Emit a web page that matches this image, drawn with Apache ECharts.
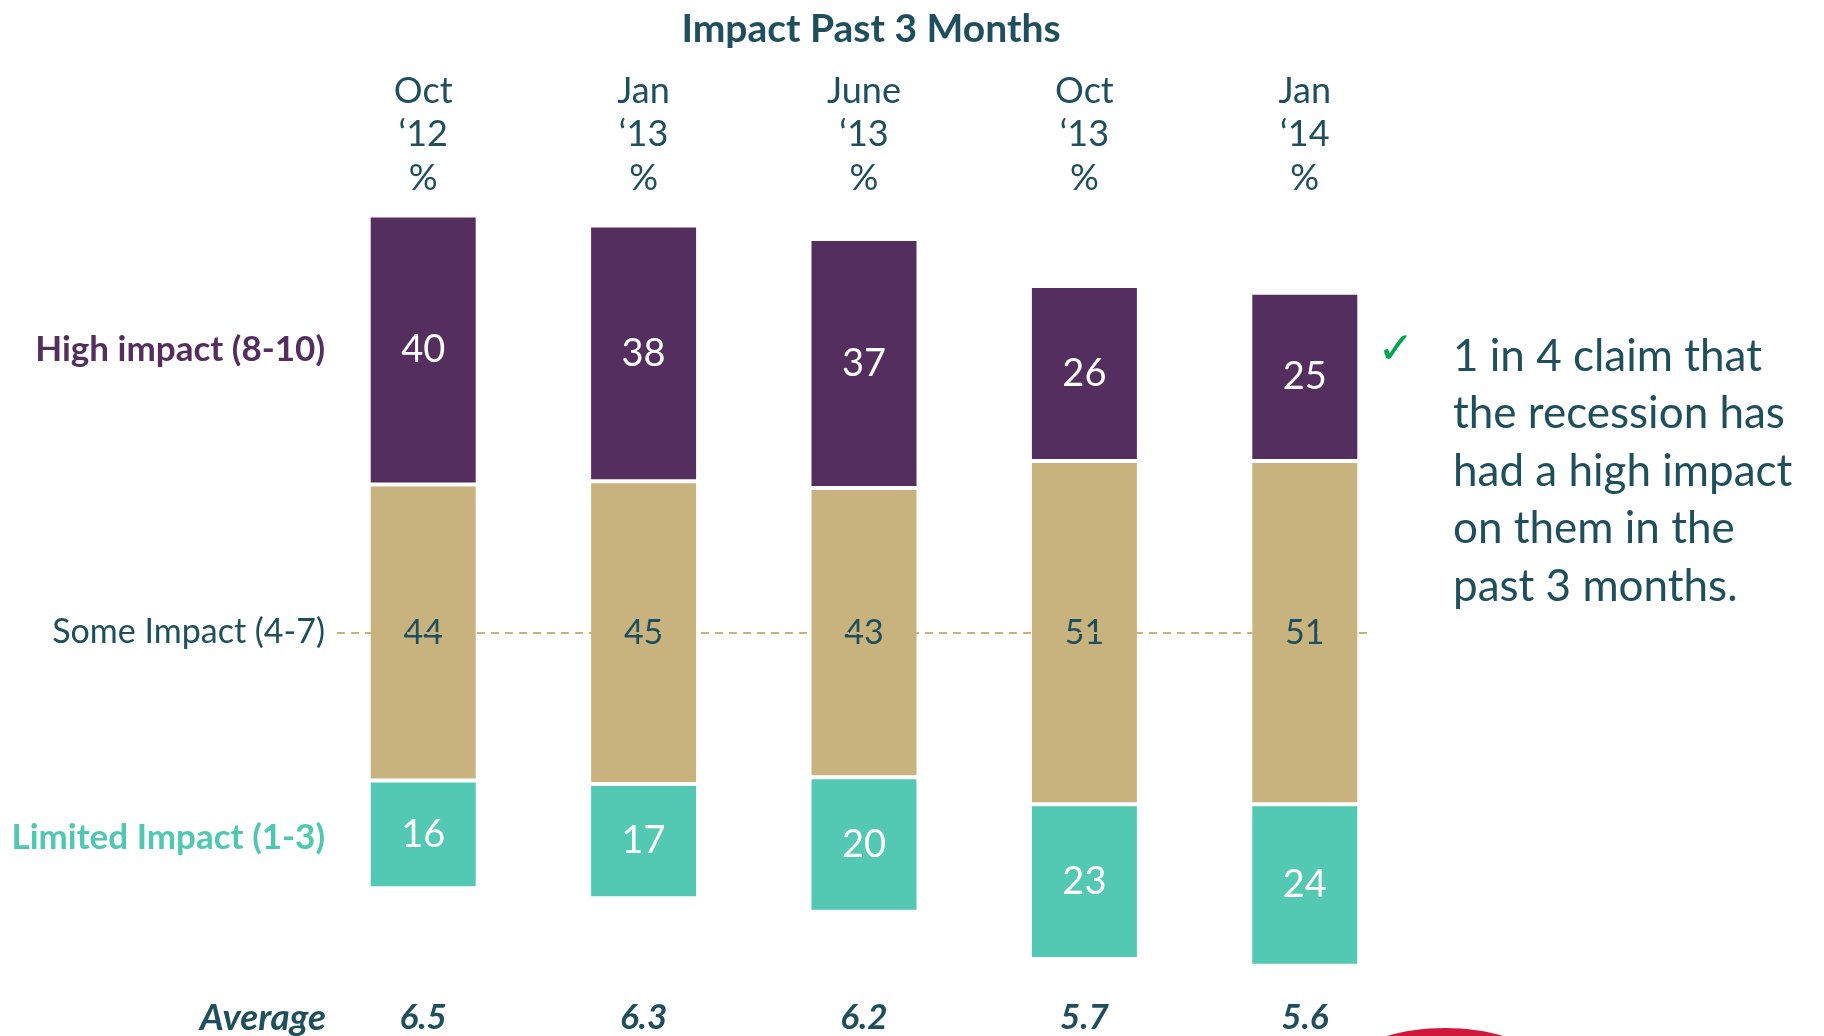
<!DOCTYPE html>
<html>
<head>
<meta charset="utf-8">
<style>
  html, body { margin: 0; padding: 0; background: #fff; }
  #chart { width: 1824px; height: 1036px; }
</style>
<script src="https://cdn.jsdelivr.net/npm/echarts@6/dist/echarts.min.js"></script>
</head>
<body>
<div id="chart"></div>
<script>
// data
const categories = ['Oct ‘12', 'Jan ‘13', 'June ‘13', 'Oct ‘13', 'Jan ‘14']
const limitedImpact = [16, 17, 20, 23, 24]
const someImpact = [44, 45, 43, 51, 51]
const highImpact = [40, 38, 37, 26, 25]
const averages = ['6.5', '6.3', '6.2', '5.7', '5.6']
const seriesNames = ['Limited Impact (1-3)', 'Some Impact (4-7)', 'High impact (8-10)']

const FONT = 'Lato, "Open Sans", sans-serif'
const DARK = '#1f4f5c'
const colors = ['#53c9b4', '#c8b37f', '#532e5f']

// bars are lined up on the middle of the "some impact" block
const centre = 100
const offset = limitedImpact.map((v, i) => centre - v - someImpact[i] / 2)

const chart = echarts.init(document.getElementById('chart'))

const segment = (idx, data, labelColor, labelSize) => ({
  name: seriesNames[idx],
  type: 'bar',
  stack: 'total',
  barWidth: 109,
  z: 2,
  data: data,
  itemStyle: { color: colors[idx], borderColor: '#fff', borderWidth: 2 },
  label: {
    show: true,
    position: 'inside',
    color: labelColor,
    fontFamily: FONT,
    fontSize: labelSize
  }
})

const option = {
  animation: false,
  backgroundColor: '#fff',
  title: {
    text: 'Impact Past 3 Months',
    left: 866,
    top: 5,
    textAlign: 'center',
    textStyle: { color: DARK, fontFamily: FONT, fontWeight: 'bold', fontSize: 39 }
  },
  grid: { left: 313, right: 409, top: 202, bottom: 67 },
  xAxis: [
    {
      type: 'category',
      position: 'top',
      data: categories,
      axisLine: { show: false },
      axisTick: { show: false },
      axisLabel: {
        margin: 2,
        color: DARK,
        fontFamily: FONT,
        fontSize: 36,
        lineHeight: 43.5,
        formatter: v => v.split(' ').join('\n') + '\n%'
      }
    },
    {
      type: 'category',
      position: 'bottom',
      data: averages,
      axisLine: { show: false },
      axisTick: { show: false },
      axisLabel: {
        margin: 31,
        color: DARK,
        fontFamily: FONT,
        fontSize: 35,
        lineHeight: 35,
        fontWeight: 'bold',
        fontStyle: 'italic'
      }
    }
  ],
  yAxis: { type: 'value', min: 50, max: 164, show: false },
  graphic: [
    {
      type: 'text', x: 325, y: 350,
      style: { text: seriesNames[2], fill: colors[2], font: 'bold 35px ' + FONT, align: 'right', verticalAlign: 'middle' }
    },
    {
      type: 'text', x: 337, y: 632, z: 10,
      style: {
        text: seriesNames[1], fill: DARK, font: '34px ' + FONT,
        align: 'right', verticalAlign: 'middle',
        backgroundColor: '#fff', padding: [4, 12, 4, 4]
      }
    },
    {
      type: 'text', x: 325, y: 838,
      style: { text: seriesNames[0], fill: '#4fc8b1', font: 'bold 35px ' + FONT, align: 'right', verticalAlign: 'middle' }
    },
    {
      type: 'text', x: 326, y: 1018,
      style: { text: 'Average', fill: DARK, font: 'italic bold 37px ' + FONT, align: 'right', verticalAlign: 'middle' }
    },
    {
      type: 'text', x: 1396, y: 352,
      style: { text: '✓', fill: '#00a651', font: '44px "DejaVu Sans"', align: 'center', verticalAlign: 'middle' }
    },
    {
      type: 'text', x: 1453, y: 328,
      style: {
        text: '1 in 4 claim that\nthe recession has\nhad a high impact\non them in the\npast 3 months.',
        fill: DARK, font: '44px ' + FONT, lineHeight: 57.5,
        align: 'left', verticalAlign: 'top'
      }
    },
    {
      type: 'ellipse', shape: { cx: 1445, cy: 1062, rx: 90, ry: 34 },
      style: { fill: '#d0183a' }
    }
  ],
  series: [
    {
      name: 'offset',
      type: 'bar',
      stack: 'total',
      barWidth: 109,
      z: 1,
      silent: true,
      data: offset,
      itemStyle: { color: 'transparent' }
    },
    segment(0, limitedImpact, '#fff', 38),
    segment(1, someImpact, DARK, 34),
    segment(2, highImpact, '#fff', 38)
  ]
}

chart.setOption(option)

// dashed guide through the middle of the "some impact" blocks
const lineY = chart.convertToPixel({ yAxisIndex: 0 }, centre)
chart.setOption({
  series: [{
    name: 'offset',
    markLine: {
      silent: true,
      symbol: 'none',
      label: { show: false },
      lineStyle: { color: '#c8b37f', type: [8, 6], width: 2 },
      data: [[{ x: 337, y: lineY }, { x: 1368, y: lineY }]]
    }
  }]
})

window.addEventListener('resize', () => chart.resize())
</script>
</body>
</html>
